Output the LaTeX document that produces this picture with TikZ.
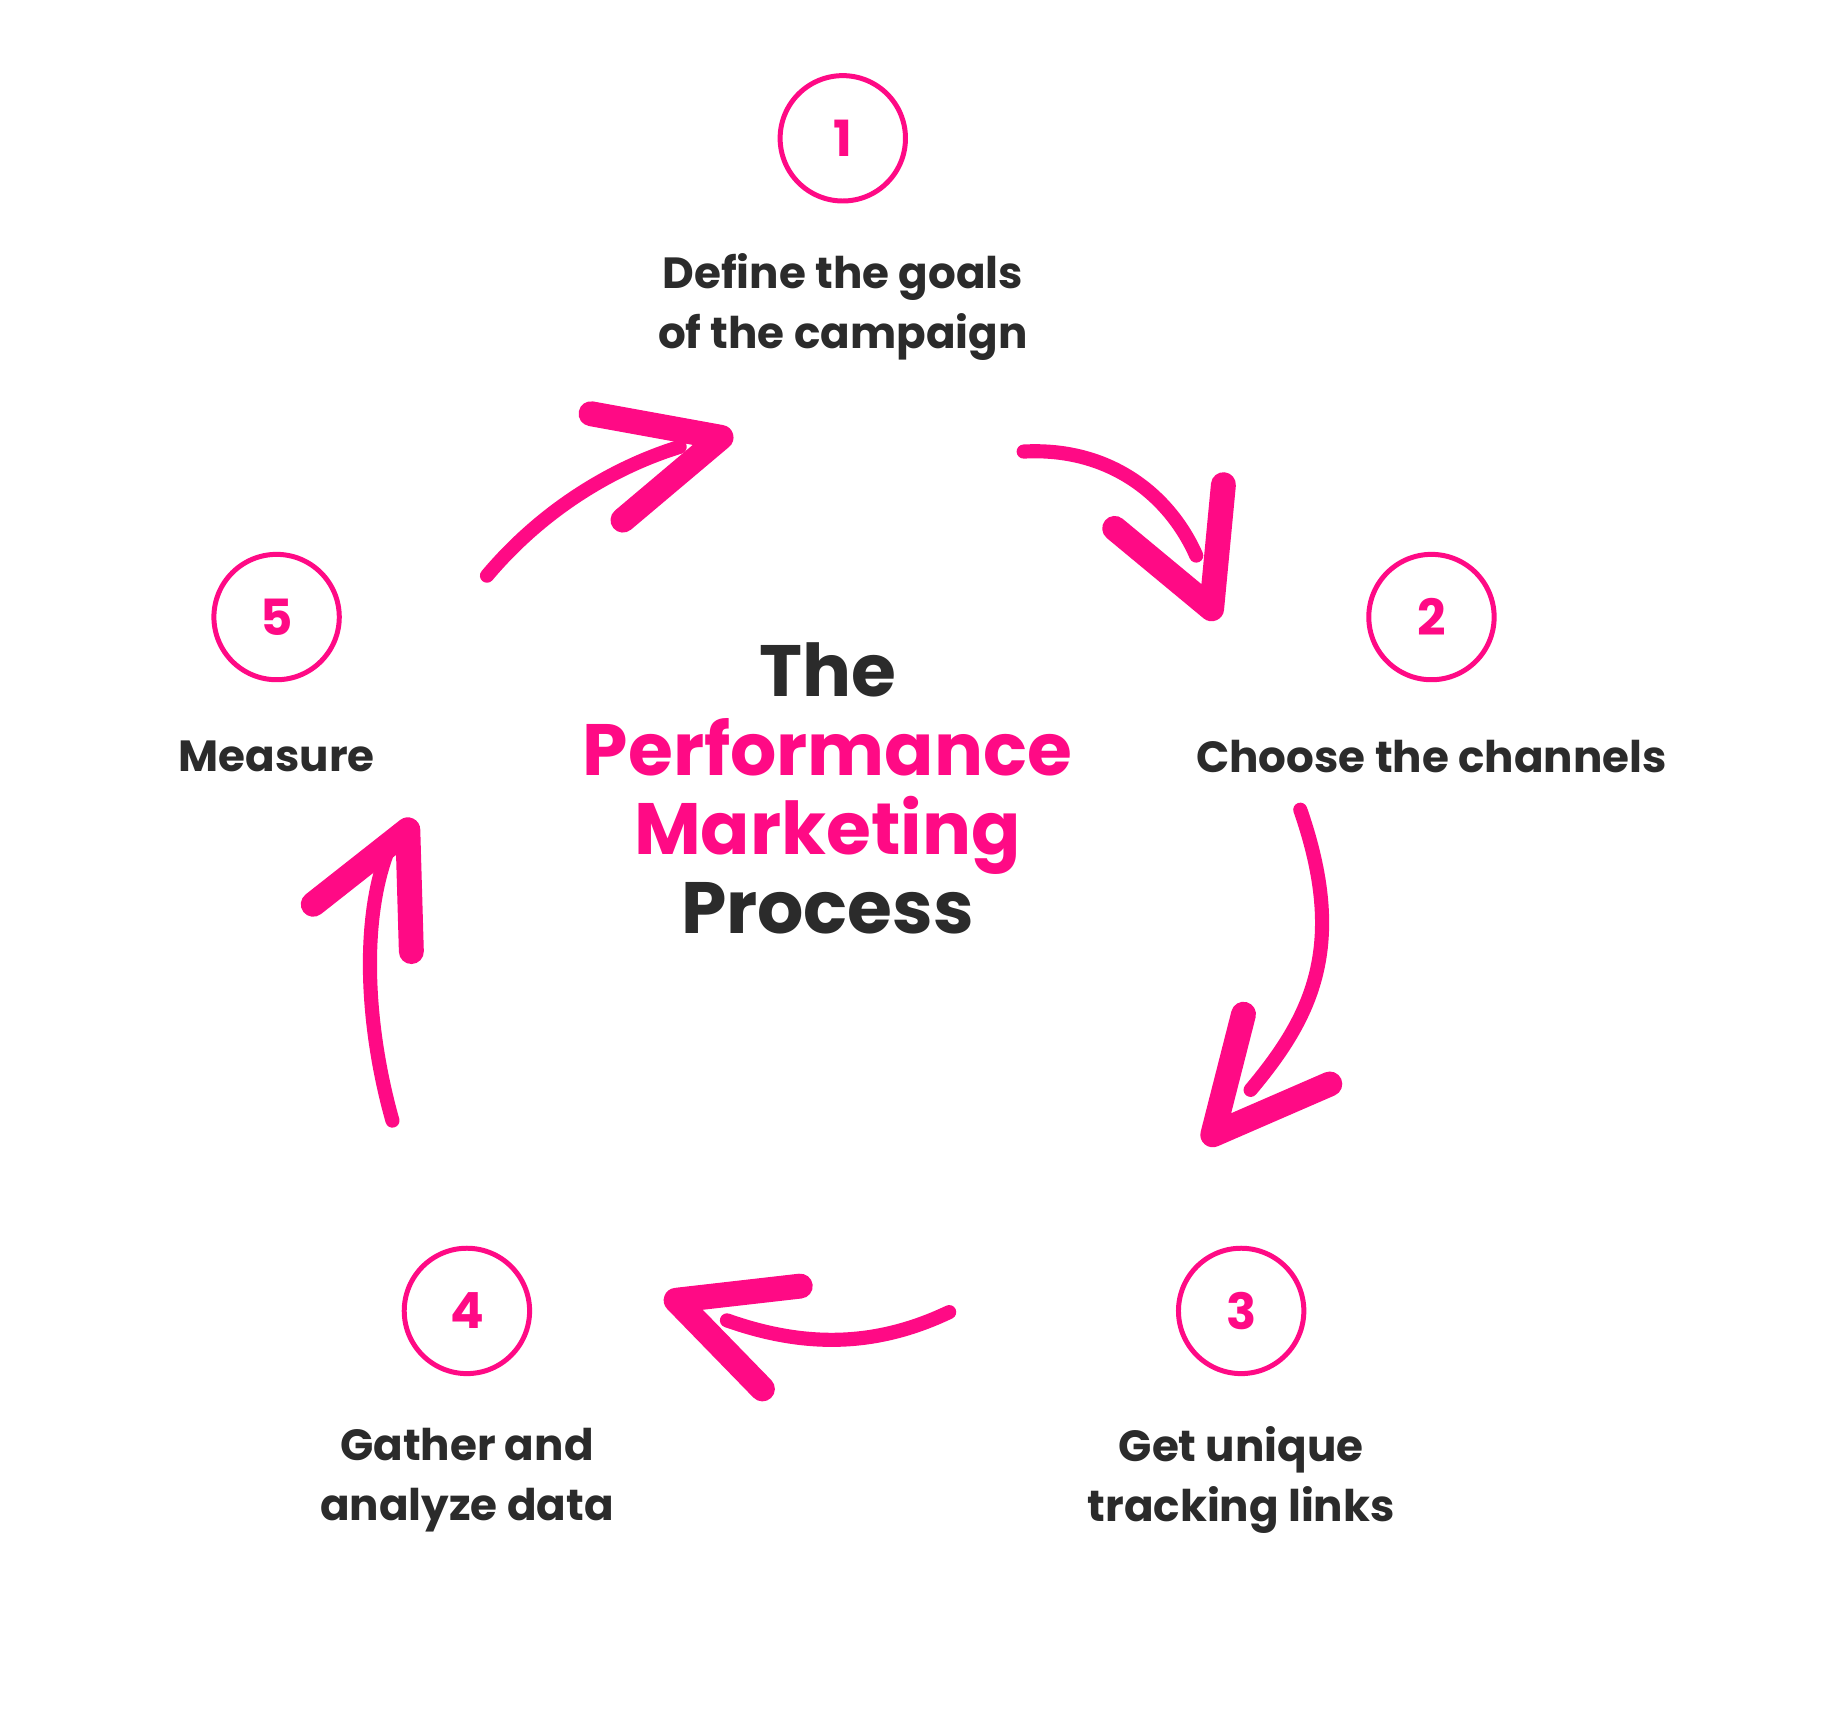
\documentclass[tikz,border=0pt]{standalone}
\usepackage{fontspec}
\setmainfont{Poppins}
\usetikzlibrary{positioning}
\definecolor{hotpink}{HTML}{FF0A85}
\definecolor{ink}{HTML}{2B2B2B}
\tikzset{
  stepcircle/.style={circle, draw=hotpink, line width=1.2pt, minimum size=1.06cm, text=hotpink, font=\bfseries\fontsize{12}{14}\selectfont},
  steptext/.style={text=ink, align=center, font=\bfseries\fontsize{10.5}{14.5}\selectfont},
  shaft/.style={draw=hotpink, line width=3.4pt, line cap=round},
  head/.style={draw=hotpink, line width=6pt, line cap=round, line join=round}
}
\begin{document}
\begin{tikzpicture}[x=0.01cm, y=-0.01cm]
   \useasboundingbox (0,0) rectangle (1560,1447);
   % steps
   \node[stepcircle] (s1) at (713,117) {1};
   \node[stepcircle] (s2) at (1211,522) {2};
   \node[stepcircle] (s3) at (1050,1109) {3};
   \node[stepcircle] (s4) at (395,1109) {4};
   \node[stepcircle] (s5) at (234,522) {5};
   \node[steptext] (l1) at (713,260) {Define the goals\\of the campaign};
   \node[steptext] (l2) at (1211,640) {Choose the channels};
   \node[steptext] (l3) at (1050,1252) {Get unique\\tracking links};
   \node[steptext] (l4) at (395,1252) {Gather and\\analyze data};
   \node[steptext] (l5) at (234,640) {Measure};
   % title
   \node[font=\bfseries\fontsize{17.5}{19}\selectfont, align=center, text=ink] (title) at (700,667)
     {The\\\textcolor{hotpink}{Performance}\\\textcolor{hotpink}{Marketing}\\Process};
   % arrows
   \coordinate (a1s) at (412,487); \coordinate (a1e) at (575,378);
   \coordinate (a2s) at (866,382); \coordinate (a2e) at (1012,470);
   \coordinate (a3s) at (1100,685); \coordinate (a3e) at (1058,922);
   \coordinate (a4s) at (803,1110); \coordinate (a4e) at (615,1117);
   \coordinate (a5s) at (332,948); \coordinate (a5e) at (328,720);
   \draw[shaft] (a1s) .. controls (460,430) and (520,395) .. (a1e);
   \draw[head] (500,350) -- (610,370) -- (527,440);
   \draw[shaft] (a2s) .. controls (940,378) and (990,420) .. (a2e);
   \draw[head] (943,447) -- (1025,515) -- (1035,410);
   \draw[shaft] (a3s) .. controls (1140,800) and (1110,860) .. (a3e);
   \draw[head] (1052,858) -- (1026,960) -- (1125,917);
   \draw[shaft] (a4s) .. controls (740,1140) and (680,1140) .. (a4e);
   \draw[head] (677,1088) -- (572,1100) -- (645,1175);
   \draw[shaft] (a5s) .. controls (310,870) and (305,780) .. (a5e);
   \draw[head] (265,765) -- (345,702) -- (348,805);
\end{tikzpicture}
\end{document}
